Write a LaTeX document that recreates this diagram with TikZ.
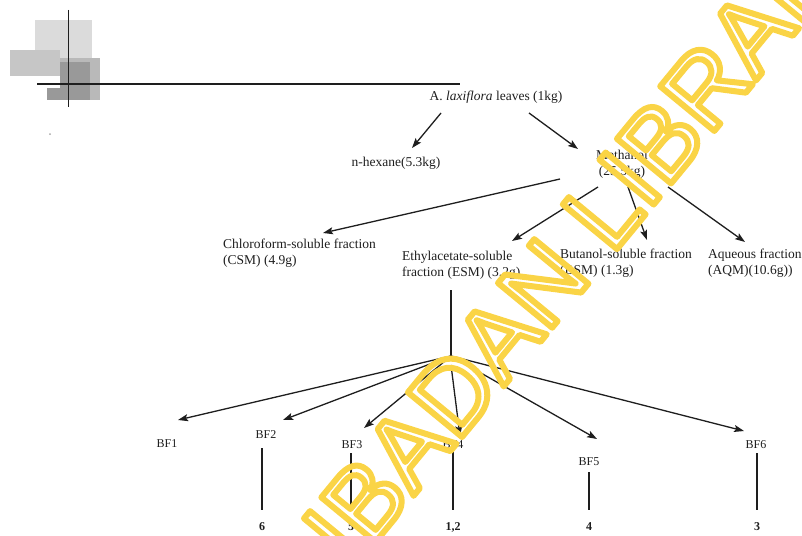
\documentclass[tikz,border=0pt]{standalone}
\usepackage{fontspec}
\setmainfont{Liberation Serif}
\newfontfamily\wmfont{Liberation Sans}
\usetikzlibrary{arrows.meta,calc}
\definecolor{ink}{RGB}{30,30,30}
\definecolor{wmyellow}{RGB}{250,212,70}
\tikzset{
  lab/.style={inner sep=0pt, text=ink, font=\fontsize{13.5}{16}\selectfont},
  bflab/.style={inner sep=0pt, text=ink, font=\fontsize{12}{14}\selectfont},
  numlab/.style={inner sep=0pt, text=ink, font=\fontsize{12}{14}\selectfont\bfseries},
  conn/.style={draw=ink, line width=1.3pt, -{Stealth[length=10pt,width=7pt,inset=2pt]}},
  plain/.style={draw=ink, line width=1.2pt},
}
\begin{document}
\begin{tikzpicture}[x=1pt,y=-1pt]
\useasboundingbox (0,0) rectangle (802,535);
% top-left scan marks
\fill[gray!28] (35,20) rectangle (92,58);
\fill[gray!45] (10,50) rectangle (60,76);
\fill[gray!55] (60,58) rectangle (100,100);
\fill[gray!80] (60,62) rectangle (90,100);
\fill[gray!80] (47,88) rectangle (60,100);
\draw[ink, line width=1pt] (68,10) -- (68,107);
\draw[ink, line width=1.4pt] (37,84) -- (460,84);
\fill[gray!70] (50,134) circle (1pt);
% nodes
\node[lab] (top) at (496,97) {A. \textit{laxiflora} leaves (1kg)};
\node[lab] (hex) at (396,163) {n-hexane(5.3kg)};
\node[lab, align=center] (meth) at (622,164) {Methanol\\(25.5kg)};
\node[lab, align=left, anchor=west] (csm) at (223,253) {Chloroform-soluble fraction\\(CSM) (4.9g)};
\node[lab, align=left, anchor=west] (esm) at (402,265) {Ethylacetate-soluble\\fraction (ESM) (3.2g)};
\node[lab, align=left, anchor=west] (bsm) at (560,263) {Butanol-soluble fraction\\(BSM) (1.3g)};
\node[lab, align=left, anchor=west] (aqm) at (708,263) {Aqueous fraction\\(AQM)(10.6g))};
\coordinate (hub) at (451,356);
\node[bflab] (bf1) at (167,444) {BF1};
\node[bflab] (bf2) at (266,435) {BF2};
\node[bflab] (bf3) at (352,445) {BF3};
\node[bflab] (bf4) at (453,445) {BF4};
\node[bflab] (bf5) at (589,462) {BF5};
\node[bflab] (bf6) at (756,445) {BF6};
\node[numlab] (n6) at (262,527) {6};
\node[numlab] (n5) at (351,527) {5};
\node[numlab] (n12) at (453,527) {1,2};
\node[numlab] (n4) at (589,527) {4};
\node[numlab] (n3) at (757,527) {3};
% connectors
\draw[conn] ($(top)+(-55,16)$) -- ($(hex)+(16,-15)$);
\draw[conn] ($(top)+(33,16)$) -- ($(meth)+(-44,-15)$);
\draw[conn] ($(meth)+(-62,15)$) -- ($(csm.west)+(100,-20)$);
\draw[conn] ($(meth)+(-24,23)$) -- ($(esm.west)+(110,-24)$);
\draw[conn] ($(meth)+(6,23)$) -- ($(bsm.west)+(87,-23)$);
\draw[conn] ($(meth)+(46,23)$) -- ($(aqm.west)+(37,-21)$);
\draw[plain] ($(esm.west)+(49,25)$) -- (hub);
\draw[conn] (hub) -- ($(bf1)+(11,-24)$);
\draw[conn] (hub) -- ($(bf2)+(17,-15)$);
\draw[conn] (hub) -- ($(bf3)+(12,-17)$);
\draw[conn] ($(hub)+(0,9)$) -- ($(bf4)+(7,-9)$);
\draw[conn] (hub) -- ($(bf5)+(8,-23)$);
\draw[conn] (hub) -- ($(bf6)+(-12,-14)$);
\draw[plain] ($(n6|-bf2)+(0,13)$) -- ($(n6)+(0,-17)$);
\draw[plain] ($(n5|-bf3)+(0,8)$) -- ($(n5)+(0,-17)$);
\draw[plain] ($(n12|-bf4)+(0,7)$) -- ($(n12)+(0,-17)$);
\draw[plain] ($(n4|-bf5)+(0,10)$) -- ($(n4)+(0,-17)$);
\draw[plain] ($(n3|-bf6)+(0,8)$) -- ($(n3)+(0,-17)$);
% watermark (stroked outline text)
\node[inner sep=0pt, rotate=50.5, text height=73pt, text depth=0pt, text=wmyellow,
      font=\wmfont\fontsize{102}{102}\selectfont] (wm) at (592,222)
  {\special{pdf:literal direct 1 Tr 6 w 1 j}IBADAN LIBRARY\special{pdf:literal direct 0 Tr}};
\end{tikzpicture}
\end{document}
